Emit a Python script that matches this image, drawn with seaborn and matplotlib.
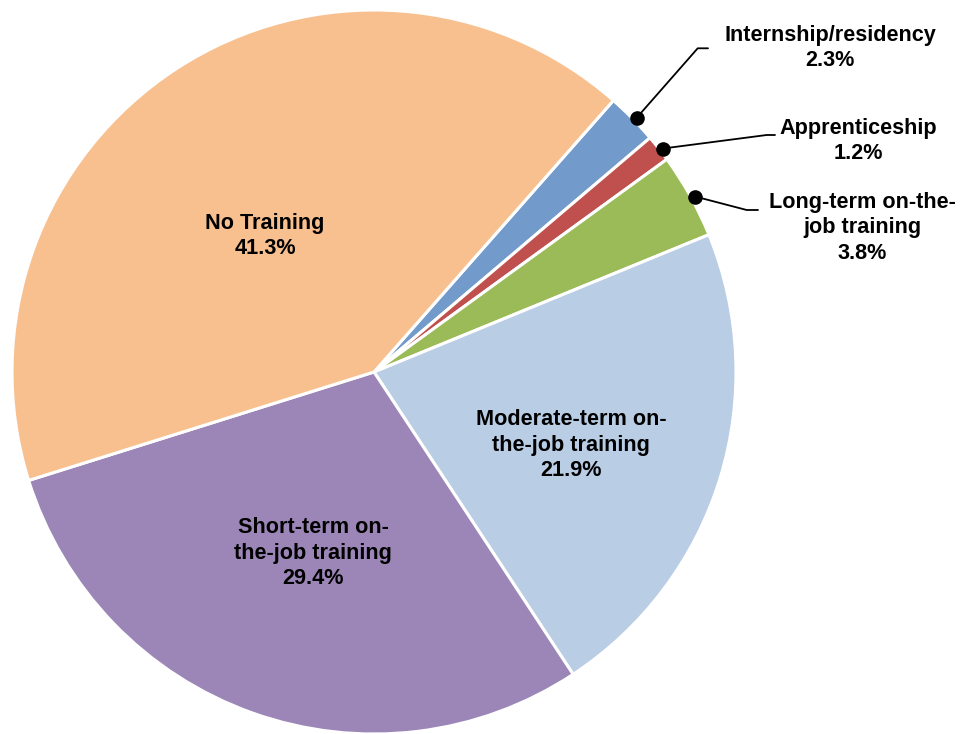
import matplotlib
matplotlib.use("Agg")
import matplotlib.pyplot as plt
import seaborn as sns

sns.set_theme(style="white")
plt.rcParams['font.family'] = ['Liberation Sans', 'DejaVu Sans']

categories = ["Internship/residency", "Apprenticeship", "Long-term on-the-\njob training",
              "Moderate-term on-\nthe-job training", "Short-term on-\nthe-job training", "No Training"]
values = [2.3, 1.2, 3.8, 21.9, 29.4, 41.3]
colors = ["#729ACA", "#C0504D", "#9BBB59", "#B9CDE5", "#9B86B7", "#F9C08F"]

W, H = 960, 734
fig = plt.figure(figsize=(W / 100, H / 100), dpi=100)
cx, cy, r = 374, 372, 362
ax = fig.add_axes([(cx - r) / W, (H - cy - r) / H, 2 * r / W, 2 * r / H])

wedges, _ = ax.pie(values, colors=colors, startangle=48.6, counterclock=False,
                   radius=1, wedgeprops=dict(edgecolor="white", linewidth=2.2))
ax.set_xlim(-1, 1)
ax.set_ylim(-1, 1)
ax.set_aspect("equal")
ax.axis("off")

def px(x, y):
    return ((x - cx) / r, (cy - y) / r)

fs = 15.6
ls = 1.27
# inside labels
inside = {5: (265, 236), 4: (313, 553), 3: (571, 445)}
for i, (x, y) in inside.items():
    ax.text(*px(x, y), f"{categories[i]}\n{values[i]}%", ha="center", va="center",
            fontsize=fs, fontweight="bold", linespacing=ls, color="black")

# outside labels with leader lines
outside = [
    (0, (636.5, 118), (697.7, 48.3), (708, 48.3), (830, 48)),
    (1, (663, 148.5), (766.7, 135), (775, 135), (858, 141)),
    (2, (695, 196.5), (746.7, 210), (758, 210), (862, 228)),
]
for i, dot, p1, p2, tpos in outside:
    xs = [px(*dot)[0], px(*p1)[0], px(*p2)[0]]
    ys = [px(*dot)[1], px(*p1)[1], px(*p2)[1]]
    ax.plot(xs, ys, color="black", lw=1.3, clip_on=False)
    ax.plot(*px(*dot), "o", color="black", ms=9.5, clip_on=False)
    ax.text(*px(*tpos), f"{categories[i]}\n{values[i]}%", ha="center", va="center",
            fontsize=fs, fontweight="bold", linespacing=ls, color="black")

fig.savefig("out.png", dpi=100)
